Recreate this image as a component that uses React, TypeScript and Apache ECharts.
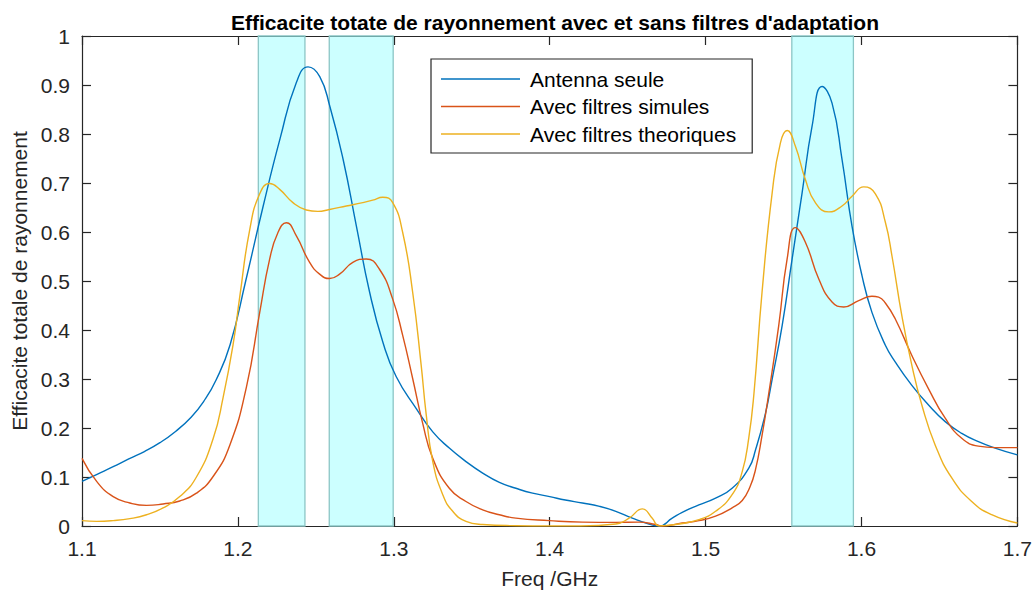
import React, { useEffect, useRef } from "react";
import * as echarts from "echarts";

const titleText = "Efficacite totate de rayonnement avec et sans filtres d'adaptation";
const xAxisName = "Freq /GHz";
const yAxisName = "Efficacite totale de rayonnement";
const seriesNames = ["Antenna seule", "Avec filtres simules", "Avec filtres theoriques"];
const seriesColors = ["#0072BD", "#D95319", "#EDB120"];

const bands: [number, number][] = [
  [1.2131, 1.243],
  [1.2586, 1.2996],
  [1.5553, 1.5948],
];

const freqAntenna = [
  1.1, 1.11, 1.12, 1.13, 1.14, 1.15, 1.16, 1.17, 1.178, 1.186, 1.195, 1.205, 1.216, 1.227,
  1.2375, 1.245, 1.2525, 1.259, 1.2675, 1.276, 1.2845, 1.293, 1.3015, 1.3143, 1.325, 1.3356,
  1.3463, 1.357, 1.3677, 1.3783, 1.389, 1.4, 1.41, 1.421, 1.432, 1.4424, 1.453, 1.4637, 1.4701,
  1.4786, 1.485, 1.4957, 1.5064, 1.517, 1.5277, 1.532, 1.5384, 1.5427, 1.5491, 1.5555, 1.5619,
  1.5683, 1.5747, 1.5811, 1.5875, 1.5939, 1.6003, 1.6067, 1.6153, 1.6216, 1.6323, 1.643, 1.6537,
  1.6643, 1.675, 1.6857, 1.7,
];
const valAntenna = [
  0.091, 0.106, 0.121, 0.137, 0.152, 0.17, 0.193, 0.222, 0.254, 0.298, 0.37, 0.5, 0.65,
  0.79, 0.905, 0.937, 0.917, 0.856, 0.748, 0.612, 0.477, 0.375, 0.305, 0.24, 0.192, 0.159, 0.1315,
  0.108, 0.089, 0.077, 0.067, 0.06, 0.053, 0.047, 0.04, 0.03, 0.016, 0.004, 0.0, 0.016, 0.028,
  0.043, 0.057, 0.077, 0.118, 0.155, 0.23, 0.3, 0.409, 0.545, 0.68, 0.816, 0.897, 0.863, 0.748,
  0.612, 0.511, 0.436, 0.369, 0.335, 0.287, 0.247, 0.213, 0.189, 0.172, 0.159, 0.145,
];

const freqSimules = [
  1.1, 1.1094, 1.12, 1.1307, 1.1414, 1.152, 1.1627, 1.1734, 1.1841, 1.1948, 1.2055, 1.214, 1.2204,
  1.2257, 1.2311, 1.2375, 1.246, 1.2524, 1.2588, 1.2652, 1.2737, 1.2823, 1.2908, 1.2993, 1.3057,
  1.3121, 1.3185, 1.325, 1.3356, 1.3463, 1.357, 1.3677, 1.3783, 1.3997, 1.421, 1.4424, 1.4573,
  1.468, 1.4722, 1.485, 1.4957, 1.5064, 1.517, 1.5235, 1.5285, 1.532, 1.5362, 1.5405, 1.5469,
  1.5523, 1.5576, 1.564, 1.5726, 1.5811, 1.5886, 1.5982, 1.6067, 1.611, 1.6153, 1.6216, 1.6323,
  1.643, 1.6537, 1.6643, 1.675, 1.6857, 1.7,
];
const valSimules = [
  0.138, 0.091, 0.06, 0.047, 0.042, 0.045, 0.051, 0.067, 0.101, 0.165, 0.284, 0.436, 0.545, 0.599,
  0.619, 0.592, 0.538, 0.514, 0.505, 0.514, 0.538, 0.545, 0.524, 0.463, 0.389, 0.301, 0.21, 0.138,
  0.077, 0.05, 0.033, 0.023, 0.016, 0.011, 0.008, 0.0075, 0.008, 0.003, 0.0, 0.006, 0.011, 0.02,
  0.037, 0.052, 0.08, 0.115, 0.185, 0.27, 0.409, 0.545, 0.609, 0.579, 0.504, 0.457, 0.447, 0.46,
  0.469, 0.467, 0.455, 0.423, 0.348, 0.28, 0.22, 0.179, 0.163, 0.16, 0.16,
];

const freqTheoriques = [
  1.1, 1.1094, 1.12, 1.1307, 1.1414, 1.152, 1.1627, 1.1734, 1.1841, 1.1905, 1.1969, 1.2012, 1.2076,
  1.214, 1.2204, 1.2268, 1.2353, 1.2439, 1.2513, 1.2588, 1.2695, 1.2801, 1.2865, 1.2929, 1.2993,
  1.3057, 1.3121, 1.3175, 1.3207, 1.325, 1.3314, 1.3378, 1.3463, 1.357, 1.3783, 1.4, 1.42, 1.4424,
  1.4509, 1.4594, 1.4658, 1.4701, 1.4807, 1.4957, 1.5064, 1.517, 1.5234, 1.5277, 1.531, 1.5362,
  1.5427, 1.548, 1.5523, 1.5576, 1.564, 1.5704, 1.579, 1.5875, 1.5939, 1.6014, 1.6089, 1.6153,
  1.6196, 1.6259, 1.6323, 1.6387, 1.6473, 1.6579, 1.6707, 1.6835, 1.7,
];
const valTheoriques = [
  0.011, 0.0095, 0.011, 0.015, 0.023, 0.037, 0.06, 0.1, 0.178, 0.262, 0.37, 0.468, 0.605, 0.678,
  0.699, 0.687, 0.66, 0.645, 0.642, 0.646, 0.653, 0.66, 0.665, 0.671, 0.66, 0.599, 0.477, 0.33,
  0.23, 0.1315, 0.064, 0.03, 0.0095, 0.003, 0.0006, 0.0, 0.0, 0.004, 0.016, 0.035, 0.016, 0.0,
  0.003, 0.013, 0.03, 0.064, 0.11, 0.18, 0.27, 0.477, 0.68, 0.782, 0.807, 0.775, 0.707, 0.66,
  0.641, 0.653, 0.673, 0.692, 0.678, 0.62, 0.55, 0.429, 0.328, 0.247, 0.165, 0.098, 0.05, 0.023,
  0.006,
];

const xTicks = { min: 1.1, max: 1.7, interval: 0.1 };
const yTicks = { min: 0, max: 1, interval: 0.1 };

const FONT = '"Liberation Sans", Helvetica, Arial, sans-serif';
const AXIS_COLOR = "#262626";
const FS = 21;

function zip(xs: number[], ys: number[]) {
  return xs.map((x, i) => [x, ys[i]]);
}

export default function App() {
  const ref = useRef<HTMLDivElement>(null);
  useEffect(() => {
    if (!ref.current) return;
    const chart = echarts.init(ref.current, undefined, { renderer: "svg" });
    const axisCommon = {
      axisLine: { show: true, onZero: false, lineStyle: { color: AXIS_COLOR, width: 1.2 } },
      axisTick: { show: true, inside: true, length: 9, lineStyle: { color: AXIS_COLOR, width: 1.2 } },
      splitLine: { show: false },
    };
    const datasets = [
      zip(freqAntenna, valAntenna),
      zip(freqSimules, valSimules),
      zip(freqTheoriques, valTheoriques),
    ];
    chart.setOption({
      animation: false,
      backgroundColor: "#ffffff",
      textStyle: { fontFamily: FONT },
      title: {
        text: titleText,
        left: 550,
        top: 7,
        textAlign: "center",
        textStyle: { fontSize: 21, fontWeight: "bold", color: "#000", fontFamily: FONT },
      },
      grid: { left: 82, right: 16, top: 36, bottom: 66, containLabel: false },
      legend: {
        data: seriesNames,
        orient: "vertical",
        left: 431,
        top: 59,
        icon: "rect",
        itemWidth: 79,
        itemHeight: 1.4,
        itemGap: 6.5,
        padding: [9.5, 16, 8.5, 10],
        borderColor: AXIS_COLOR,
        borderWidth: 1.2,
        backgroundColor: "#ffffff",
        textStyle: { fontSize: FS, color: "#000", fontFamily: FONT, padding: [0, 0, 0, 5] },
      },
      xAxis: [
        {
          type: "value",
          ...xTicks,
          position: "bottom",
          name: xAxisName,
          nameLocation: "middle",
          nameGap: 42,
          nameTextStyle: { fontSize: FS, color: AXIS_COLOR, fontFamily: FONT },
          axisLabel: { fontSize: FS, color: AXIS_COLOR, margin: 12, fontFamily: FONT },
          ...axisCommon,
        },
        {
          type: "value",
          ...xTicks,
          position: "top",
          axisLabel: { show: false },
          ...axisCommon,
        },
      ],
      yAxis: [
        {
          type: "value",
          ...yTicks,
          position: "left",
          name: yAxisName,
          nameLocation: "middle",
          nameGap: 51,
          nameTextStyle: { fontSize: FS, color: AXIS_COLOR, fontFamily: FONT },
          axisLabel: { fontSize: FS, color: AXIS_COLOR, margin: 12, fontFamily: FONT },
          ...axisCommon,
        },
        {
          type: "value",
          ...yTicks,
          position: "right",
          axisLabel: { show: false },
          ...axisCommon,
        },
      ],
      series: [
        {
          type: "line",
          name: "bands",
          data: [],
          silent: true,
          z: 1,
          markArea: {
            silent: true,
            itemStyle: {
              color: "rgba(0,255,255,0.2)",
              borderColor: "#8cc6c6",
              borderWidth: 1.3,
            },
            data: bands.map(([a, b]) => [
              { xAxis: a, yAxis: 0 },
              { xAxis: b, yAxis: 1 },
            ]),
          },
        },
        ...seriesNames.map((name, i) => ({
          type: "line",
          name,
          data: datasets[i],
          showSymbol: false,
          symbol: "none",
          smooth: 0.5,
          z: 3,
          color: seriesColors[i],
          lineStyle: { width: 1.4, color: seriesColors[i] },
        })),
      ],
    });
    return () => chart.dispose();
  }, []);
  return (
    <div
      ref={ref}
      style={{ position: "fixed", left: 0, top: 0, width: 1035, height: 594 }}
    />
  );
}
